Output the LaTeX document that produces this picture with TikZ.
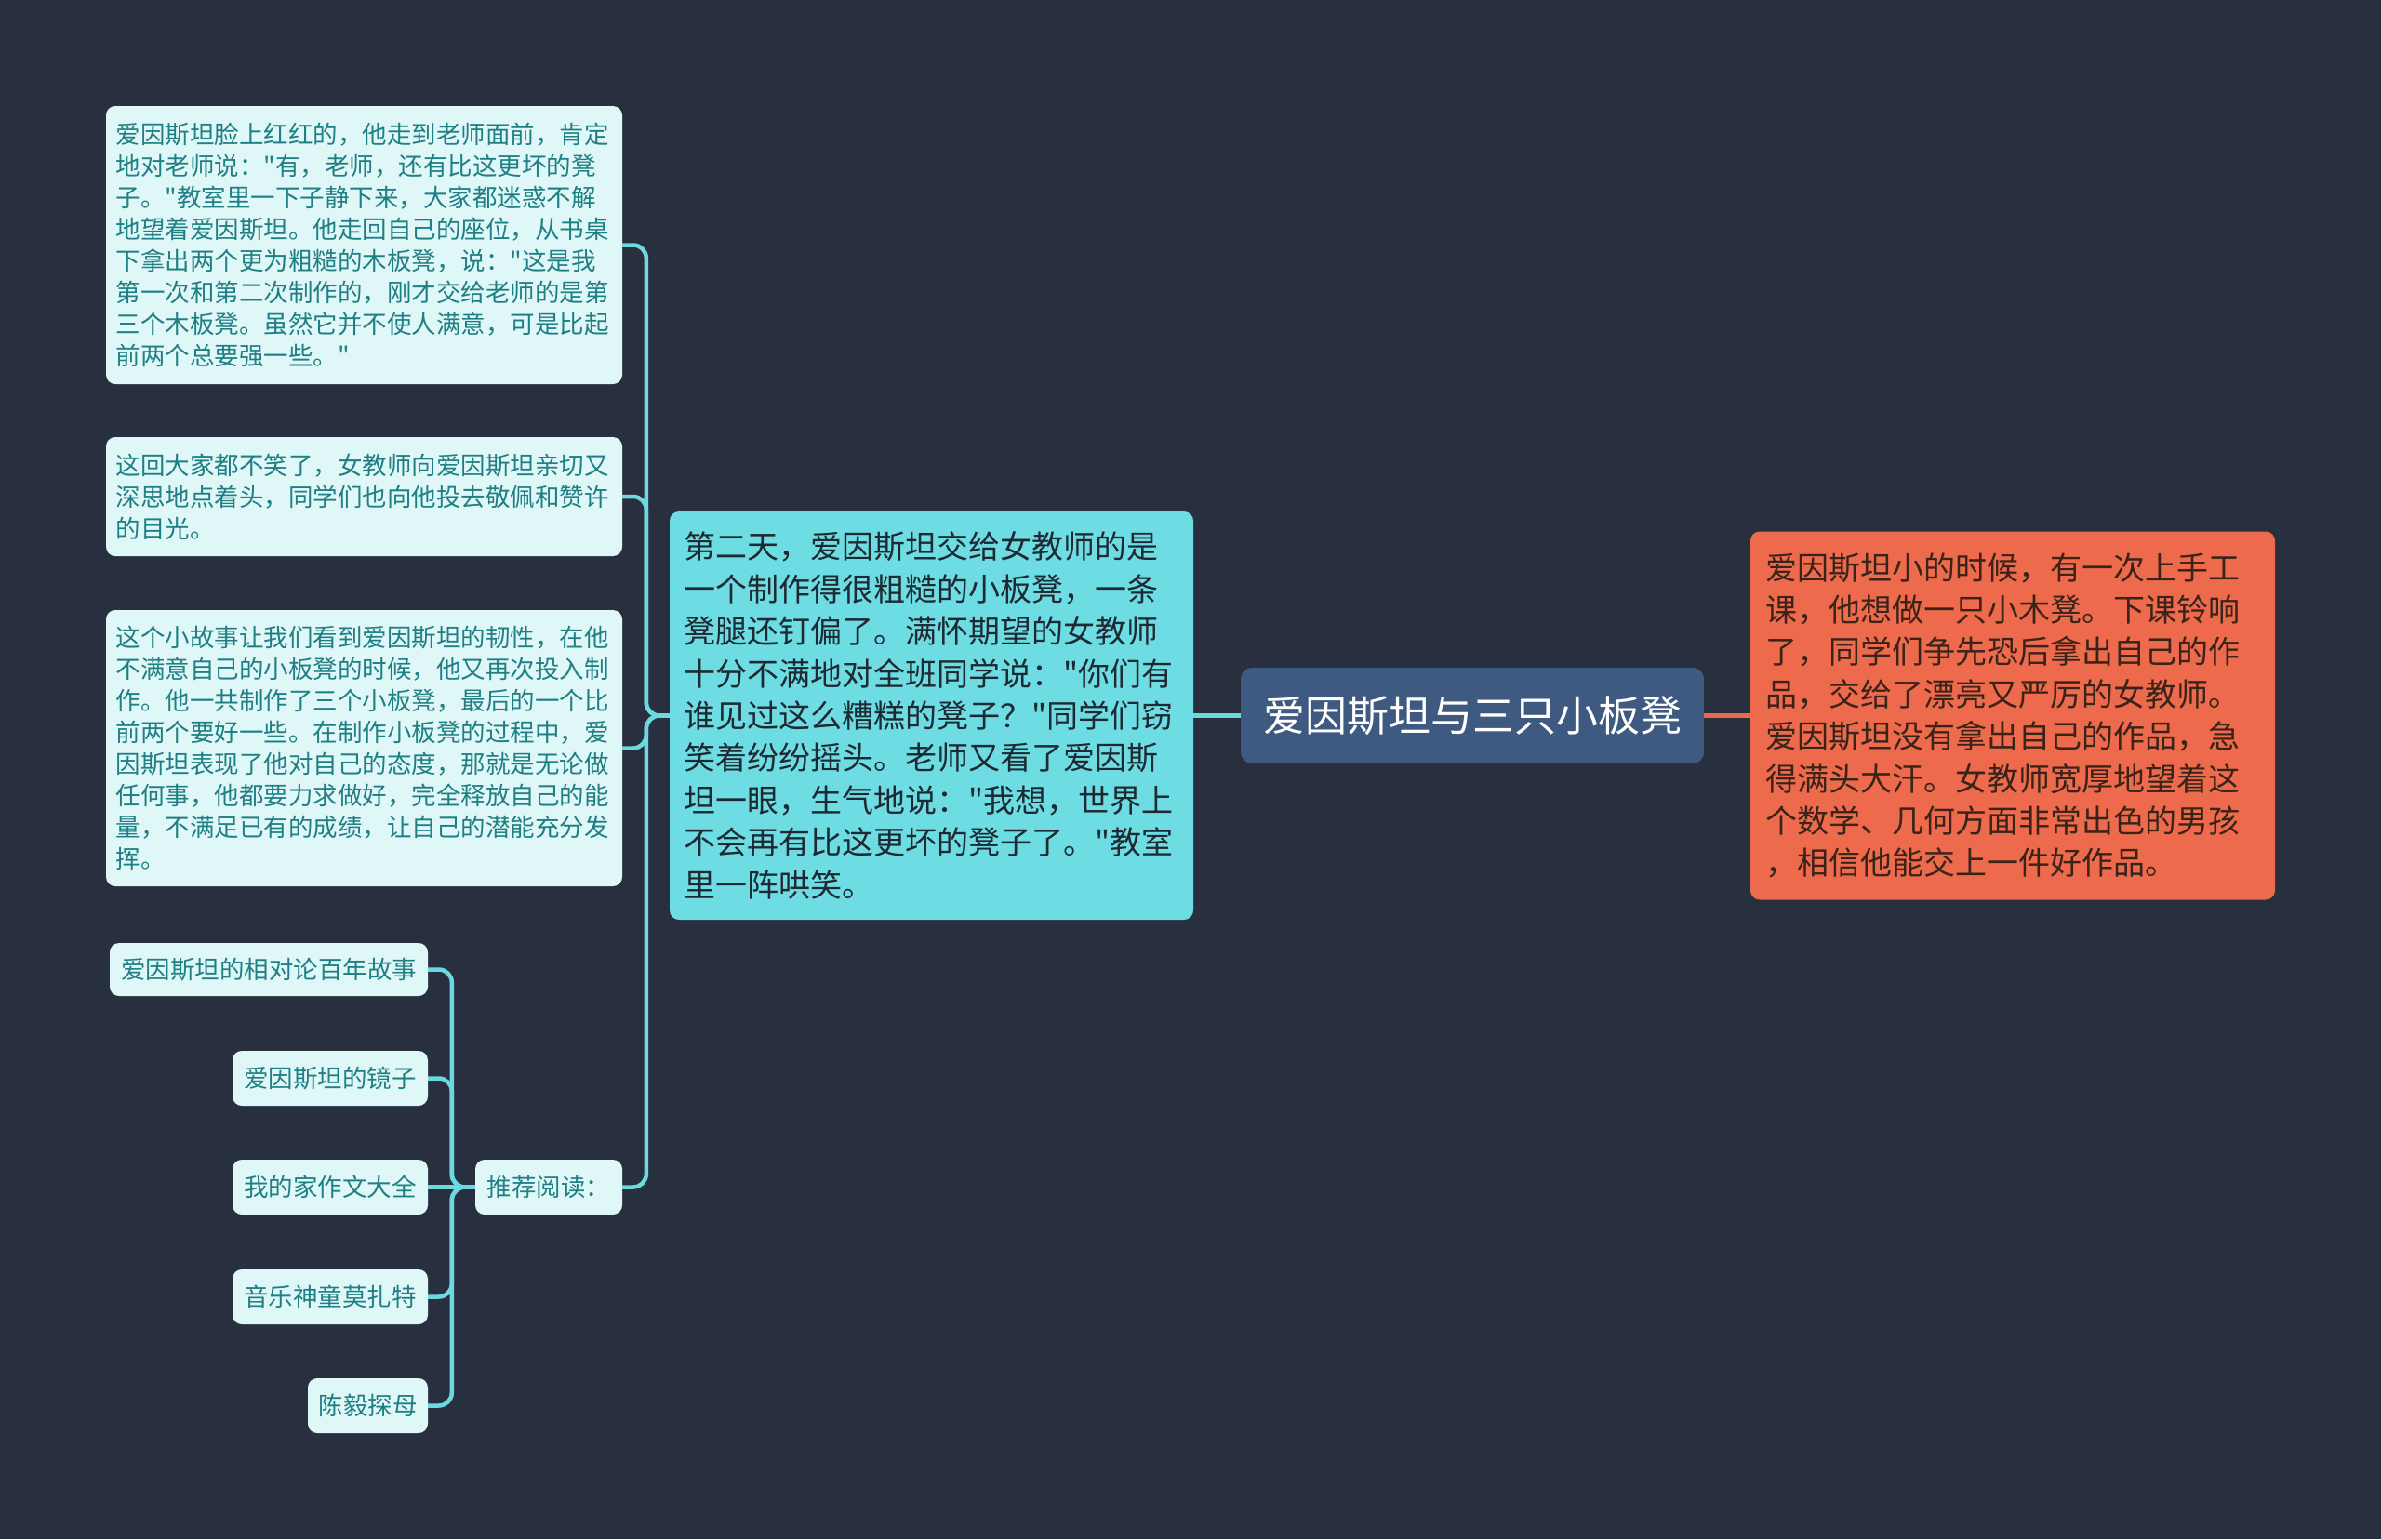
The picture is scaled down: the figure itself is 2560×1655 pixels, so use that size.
\documentclass[tikz,border=0pt]{standalone}
\usepackage{fontspec}
\setmainfont{Noto Sans CJK SC}[Ligatures=TeXOff]
\definecolor{bg}{HTML}{282F3E}
\definecolor{cline}{HTML}{6CD8E0}
\definecolor{oline}{HTML}{E8694B}
\definecolor{midfill}{HTML}{6EDDE3}
\definecolor{midtext}{HTML}{1E2A33}
\definecolor{leaffill}{HTML}{E0F7F7}
\definecolor{leaftext}{HTML}{1E7F85}
\definecolor{rootfill}{HTML}{3F5A80}
\definecolor{rightfill}{HTML}{EE6A4C}
\definecolor{righttext}{HTML}{3A2318}
\begin{document}
\begin{tikzpicture}[x=1pt,y=-1pt,
  leaf/.style={fill=leaffill, text=leaftext, rounded corners=10pt, inner sep=0pt,
    font=\fontsize{26.5}{34}\selectfont},
  para/.style={leaf, align=left, text width=534pt, minimum width=555pt},
  small/.style={leaf, align=center, minimum height=59pt},
  midbox/.style={fill=midfill, text=midtext, rounded corners=10pt, inner sep=0pt,
    font=\fontsize{34}{45.4}\selectfont, align=left, text width=532pt,
    minimum width=563pt, minimum height=439pt},
  rootbox/.style={fill=rootfill, text=white, rounded corners=12pt, inner sep=0pt,
    font=\fontsize{45}{54}\selectfont, minimum width=498pt, minimum height=103pt},
  rightbox/.style={fill=rightfill, text=righttext, rounded corners=10pt, inner sep=0pt,
    font=\fontsize{34}{45.4}\selectfont, align=left, text width=532pt,
    minimum width=564pt, minimum height=396pt},
  conn/.style={draw=cline, line width=4.5pt, rounded corners=14pt},
  oconn/.style={draw=oline, line width=4.5pt}
]
\useasboundingbox (0,0) rectangle (2560,1655);
\fill[bg] (0,0) rectangle (2560,1655);

\node[rootbox] (root) at (1583,769.5) {爱因斯坦与三只小板凳};

\node[midbox] (mid) at (1001.5,769.5) {第二天，爱因斯坦交给女教师的是\\
一个制作得很粗糙的小板凳，一条\\
凳腿还钉偏了。满怀期望的女教师\\
十分不满地对全班同学说："你们有\\
谁见过这么糟糕的凳子？"同学们窃\\
笑着纷纷摇头。老师又看了爱因斯\\
坦一眼，生气地说："我想，世界上\\
不会再有比这更坏的凳子了。"教室\\
里一阵哄笑。};

\node[rightbox] (right) at (2164,769.5) {爱因斯坦小的时候，有一次上手工\\
课，他想做一只小木凳。下课铃响\\
了，同学们争先恐后拿出自己的作\\
品，交给了漂亮又严厉的女教师。\\
爱因斯坦没有拿出自己的作品，急\\
得满头大汗。女教师宽厚地望着这\\
个数学、几何方面非常出色的男孩\\
，相信他能交上一件好作品。};

\node[para, minimum height=299pt] (l1) at (391.5,263.5) {爱因斯坦脸上红红的，他走到老师面前，肯定\\
地对老师说："有，老师，还有比这更坏的凳\\
子。"教室里一下子静下来，大家都迷惑不解\\
地望着爱因斯坦。他走回自己的座位，从书桌\\
下拿出两个更为粗糙的木板凳，说："这是我\\
第一次和第二次制作的，刚才交给老师的是第\\
三个木板凳。虽然它并不使人满意，可是比起\\
前两个总要强一些。"};

\node[para, minimum height=128pt] (l2) at (391.5,534) {这回大家都不笑了，女教师向爱因斯坦亲切又\\
深思地点着头，同学们也向他投去敬佩和赞许\\
的目光。};

\node[para, minimum height=297pt] (l3) at (391.5,804.5) {这个小故事让我们看到爱因斯坦的韧性，在他\\
不满意自己的小板凳的时候，他又再次投入制\\
作。他一共制作了三个小板凳，最后的一个比\\
前两个要好一些。在制作小板凳的过程中，爱\\
因斯坦表现了他对自己的态度，那就是无论做\\
任何事，他都要力求做好，完全释放自己的能\\
量，不满足已有的成绩，让自己的潜能充分发\\
挥。};

\node[small, minimum width=158pt] (l4) at (590,1276.5) {推荐阅读：};

\node[small, minimum width=342pt, minimum height=57pt] (r1) at (289,1042.5) {爱因斯坦的相对论百年故事};
\node[small, minimum width=210pt] (r2) at (355,1159.5) {爱因斯坦的镜子};
\node[small, minimum width=210pt] (r3) at (355,1276.5) {我的家作文大全};
\node[small, minimum width=210pt] (r4) at (355,1394.5) {音乐神童莫扎特};
\node[small, minimum width=129pt] (r5) at (395.5,1511.5) {陈毅探母};

\draw[conn] (root.west) -- (mid.east);
\draw[oconn] (root.east) -- (right.west);

\draw[conn] (mid.west) -- ++(-25,0) |- (l1.east);
\draw[conn] (mid.west) -- ++(-25,0) |- (l2.east);
\draw[conn] (mid.west) -- ++(-25,0) |- (l3.east);
\draw[conn] (mid.west) -- ++(-25,0) |- (l4.east);

\draw[conn] (l4.west) -- ++(-25,0) |- (r1.east);
\draw[conn] (l4.west) -- ++(-25,0) |- (r2.east);
\draw[conn] (l4.west) -- (r3.east);
\draw[conn] (l4.west) -- ++(-25,0) |- (r4.east);
\draw[conn] (l4.west) -- ++(-25,0) |- (r5.east);
\end{tikzpicture}
\end{document}
